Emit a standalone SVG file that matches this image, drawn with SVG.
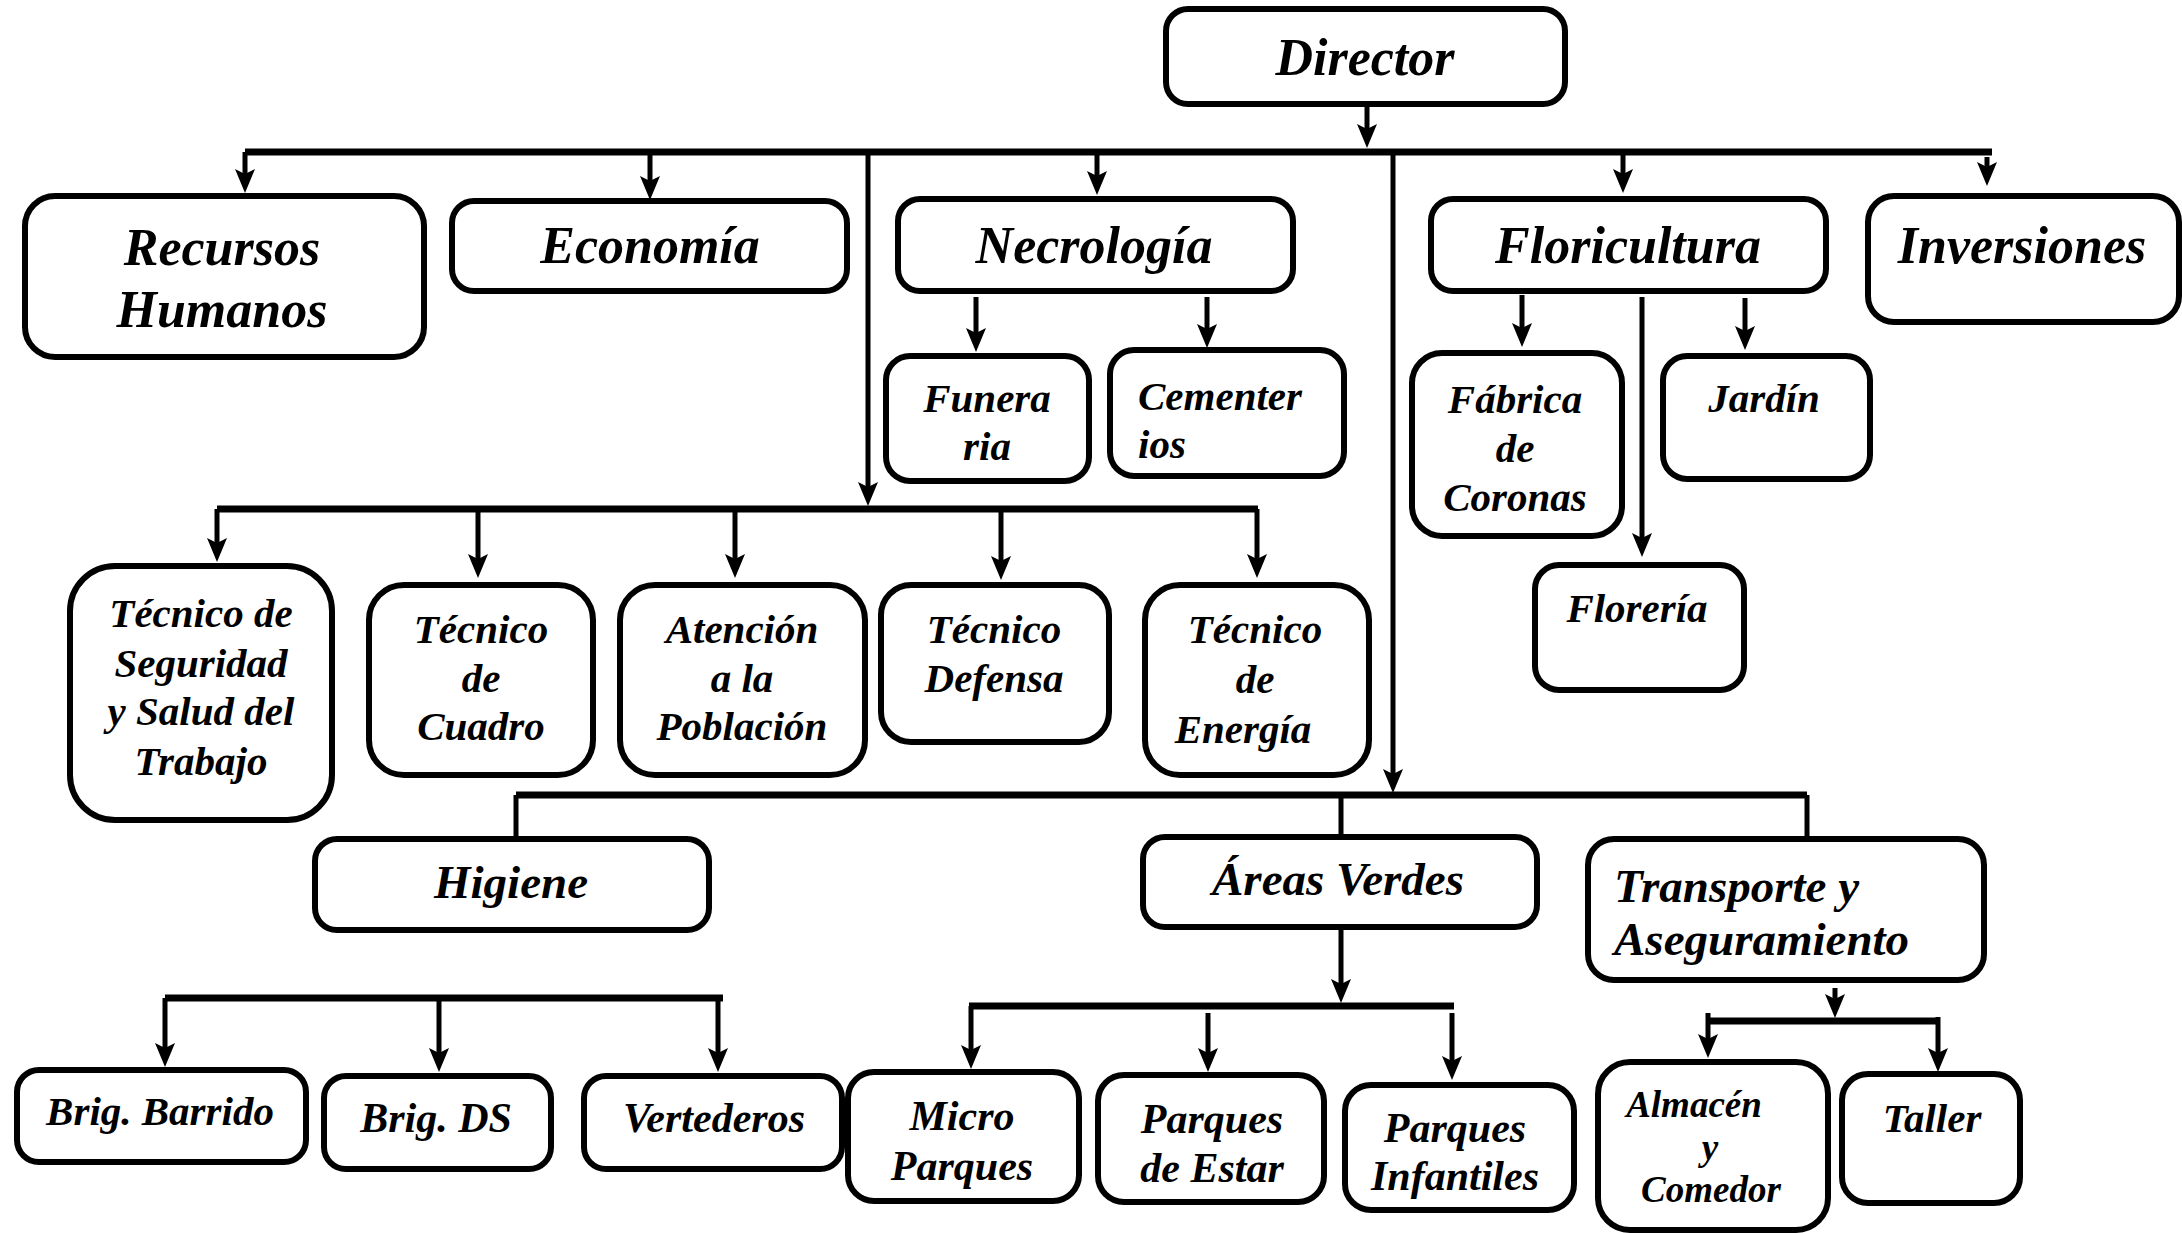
<svg xmlns="http://www.w3.org/2000/svg" width="2182" height="1233" viewBox="0 0 2182 1233">
<style>
.box{fill:#fff;stroke:#000;stroke-width:6}
.t{font-family:"Liberation Serif","Times New Roman",serif;font-weight:bold;font-style:italic;fill:#000;text-anchor:middle}
.s52{font-size:52px}
.s47{font-size:47px}
.s42{font-size:42px}
.s41{font-size:41px}
.s37{font-size:37px}
.bus{stroke:#000;stroke-width:7;fill:none}
.ln{stroke:#000;stroke-width:5;fill:none}
.ar{stroke:#000;stroke-width:5;fill:none;marker-end:url(#ah)}
</style>
<defs>
<marker id="ah" markerUnits="userSpaceOnUse" viewBox="-2 -12 28 24" markerWidth="28" markerHeight="24" refX="14" refY="0" orient="auto">
<path d="M0,-10 L24,0 L0,10 L5,0 Z" fill="#000"/>
</marker>
</defs>
<rect width="2182" height="1233" fill="#fff"/>
<g id="connectors">
<line class="ar" x1="1367" y1="104" x2="1367" y2="138"/>
<line class="bus" x1="245" y1="152" x2="1992" y2="152"/>
<line class="ar" x1="245" y1="152" x2="245" y2="183"/>
<line class="ar" x1="650" y1="152" x2="650" y2="190"/>
<line class="ar" x1="1097" y1="152" x2="1097" y2="185"/>
<line class="ar" x1="1623" y1="152" x2="1623" y2="183"/>
<line class="ar" x1="1987" y1="157" x2="1987" y2="176"/>
<line class="ar" x1="868" y1="152" x2="868" y2="496"/>
<line class="ar" x1="1393" y1="152" x2="1393" y2="783"/>
<line class="ar" x1="976" y1="297" x2="976" y2="342"/>
<line class="ar" x1="1207" y1="297" x2="1207" y2="338"/>
<line class="ar" x1="1522" y1="295" x2="1522" y2="337"/>
<line class="ar" x1="1745" y1="298" x2="1745" y2="340"/>
<line class="ar" x1="1642" y1="297" x2="1642" y2="547"/>
<line class="bus" x1="217" y1="509" x2="1258" y2="509"/>
<line class="ar" x1="217" y1="509" x2="217" y2="552"/>
<line class="ar" x1="478" y1="509" x2="478" y2="568"/>
<line class="ar" x1="735" y1="509" x2="735" y2="568"/>
<line class="ar" x1="1001" y1="509" x2="1001" y2="570"/>
<line class="ar" x1="1257" y1="509" x2="1257" y2="568"/>
<line class="bus" x1="516" y1="795" x2="1807" y2="795"/>
<line class="ln" x1="516" y1="795" x2="516" y2="838"/>
<line class="ln" x1="1341" y1="795" x2="1341" y2="836"/>
<line class="ln" x1="1807" y1="795" x2="1807" y2="838"/>
<line class="bus" x1="165" y1="998" x2="723" y2="998"/>
<line class="ar" x1="165" y1="998" x2="165" y2="1057"/>
<line class="ar" x1="439" y1="998" x2="439" y2="1062"/>
<line class="ar" x1="718" y1="998" x2="718" y2="1062"/>
<line class="ar" x1="1341" y1="930" x2="1341" y2="993"/>
<line class="bus" x1="969" y1="1006" x2="1454" y2="1006"/>
<line class="ar" x1="971" y1="1006" x2="971" y2="1059"/>
<line class="ar" x1="1208" y1="1013" x2="1208" y2="1062"/>
<line class="ar" x1="1452" y1="1013" x2="1452" y2="1070"/>
<line class="ar" x1="1835" y1="988" x2="1835" y2="1008"/>
<line class="bus" x1="1707" y1="1021" x2="1938" y2="1021"/>
<line class="ar" x1="1708" y1="1013" x2="1708" y2="1048"/>
<line class="ar" x1="1938" y1="1017" x2="1938" y2="1062"/>
</g>
<g id="director"><rect class="box" x="1166" y="9" width="399" height="95" rx="22"/><text class="t s52" x="1365" y="75">Director</text></g>
<g id="recursos-humanos"><rect class="box" x="25" y="196" width="399" height="161" rx="30"/><text class="t s52" x="222" y="265">Recursos</text><text class="t s52" x="222" y="327">Humanos</text></g>
<g id="economia"><rect class="box" x="452" y="201" width="395" height="90" rx="22"/><text class="t s52" x="650" y="263">Economía</text></g>
<g id="necrologia"><rect class="box" x="898" y="199" width="395" height="92" rx="22"/><text class="t s52" x="1094" y="263">Necrología</text></g>
<g id="floricultura"><rect class="box" x="1431" y="199" width="395" height="92" rx="22"/><text class="t s52" x="1628" y="263">Floricultura</text></g>
<g id="inversiones"><rect class="box" x="1868" y="196" width="311" height="126" rx="26"/><text class="t s52" x="2022" y="263">Inversiones</text></g>
<g id="funeraria"><rect class="box" x="886" y="356" width="203" height="125" rx="24"/><text class="t s41" x="987" y="412">Funera</text><text class="t s41" x="987" y="460">ria</text></g>
<g id="cementerios"><rect class="box" x="1110" y="350" width="234" height="126" rx="24"/><text class="t s41" x="1138" y="410" style="text-anchor:start">Cementer</text><text class="t s41" x="1138" y="458" style="text-anchor:start">ios</text></g>
<g id="fabrica-coronas"><rect class="box" x="1412" y="353" width="210" height="183" rx="30"/><text class="t s41" x="1515" y="413">Fábrica</text><text class="t s41" x="1515" y="462">de</text><text class="t s41" x="1515" y="511">Coronas</text></g>
<g id="jardin"><rect class="box" x="1663" y="356" width="207" height="123" rx="24"/><text class="t s41" x="1764" y="412">Jardín</text></g>
<g id="floreria"><rect class="box" x="1535" y="565" width="209" height="125" rx="24"/><text class="t s41" x="1637" y="622">Florería</text></g>
<g id="tecnico-seguridad"><rect class="box" x="70" y="566" width="262" height="254" rx="45"/><text class="t s41" x="201" y="627">Técnico de</text><text class="t s41" x="201" y="677">Seguridad</text><text class="t s41" x="201" y="725">y Salud del</text><text class="t s41" x="201" y="775">Trabajo</text></g>
<g id="tecnico-cuadro"><rect class="box" x="369" y="585" width="224" height="190" rx="35"/><text class="t s41" x="481" y="643">Técnico</text><text class="t s41" x="481" y="692">de</text><text class="t s41" x="481" y="740">Cuadro</text></g>
<g id="atencion-poblacion"><rect class="box" x="620" y="585" width="245" height="190" rx="35"/><text class="t s41" x="742" y="643">Atención</text><text class="t s41" x="742" y="692">a la</text><text class="t s41" x="742" y="740">Población</text></g>
<g id="tecnico-defensa"><rect class="box" x="881" y="585" width="228" height="157" rx="30"/><text class="t s41" x="994" y="643">Técnico</text><text class="t s41" x="994" y="692">Defensa</text></g>
<g id="tecnico-energia"><rect class="box" x="1145" y="585" width="224" height="190" rx="35"/><text class="t s41" x="1255" y="643">Técnico</text><text class="t s41" x="1255" y="693">de</text><text class="t s41" x="1243" y="743">Energía</text></g>
<g id="higiene"><rect class="box" x="315" y="839" width="394" height="91" rx="22"/><text class="t s47" x="511" y="898">Higiene</text></g>
<g id="areas-verdes"><rect class="box" x="1143" y="837" width="394" height="90" rx="22"/><text class="t s47" x="1338" y="895">Áreas Verdes</text></g>
<g id="transporte"><rect class="box" x="1588" y="839" width="396" height="141" rx="26"/><text class="t s47" x="1614" y="902" style="text-anchor:start">Transporte y</text><text class="t s47" x="1614" y="955" style="text-anchor:start">Aseguramiento</text></g>
<g id="brig-barrido"><rect class="box" x="17" y="1070" width="289" height="92" rx="22"/><text class="t s41" x="160" y="1125">Brig. Barrido</text></g>
<g id="brig-ds"><rect class="box" x="324" y="1076" width="227" height="93" rx="22"/><text class="t s42" x="436" y="1132">Brig. DS</text></g>
<g id="vertederos"><rect class="box" x="584" y="1076" width="258" height="93" rx="22"/><text class="t s42" x="714" y="1132">Vertederos</text></g>
<g id="micro-parques"><rect class="box" x="848" y="1072" width="231" height="129" rx="26"/><text class="t s42" x="962" y="1130">Micro</text><text class="t s42" x="962" y="1180">Parques</text></g>
<g id="parques-estar"><rect class="box" x="1098" y="1075" width="226" height="127" rx="26"/><text class="t s42" x="1212" y="1133">Parques</text><text class="t s42" x="1212" y="1182">de Estar</text></g>
<g id="parques-infantiles"><rect class="box" x="1345" y="1085" width="229" height="125" rx="26"/><text class="t s42" x="1455" y="1142">Parques</text><text class="t s42" x="1455" y="1190">Infantiles</text></g>
<g id="almacen-comedor"><rect class="box" x="1598" y="1062" width="230" height="168" rx="32"/><text class="t s37" x="1694" y="1117">Almacén</text><text class="t s37" x="1710" y="1160">y</text><text class="t s37" x="1711" y="1202">Comedor</text></g>
<g id="taller"><rect class="box" x="1842" y="1074" width="178" height="129" rx="26"/><text class="t s41" x="1932" y="1132">Taller</text></g>
</svg>
